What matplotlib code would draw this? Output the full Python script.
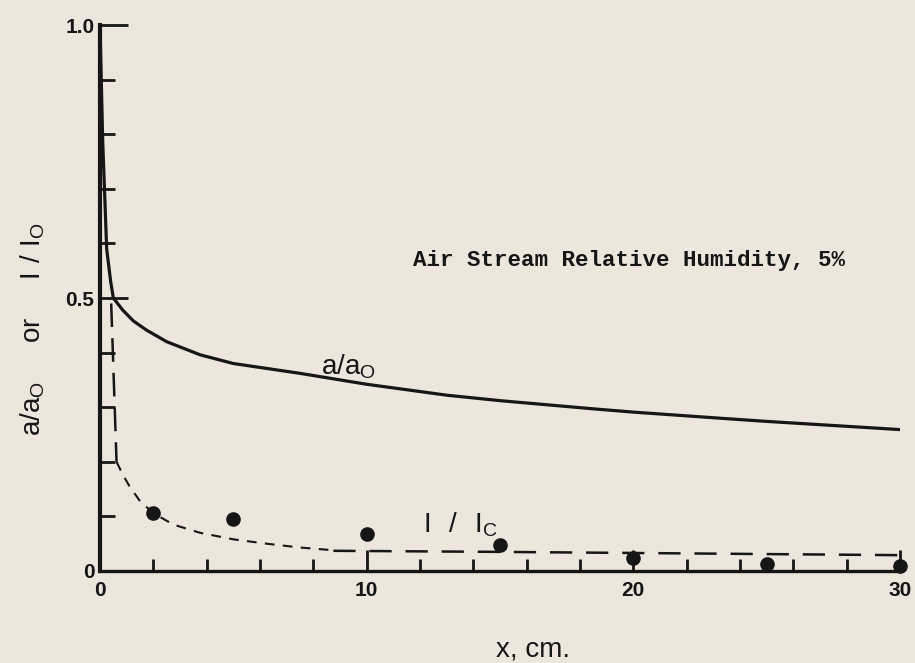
import numpy as np
import matplotlib
matplotlib.use('Agg')
import matplotlib.pyplot as plt

# a/ao (solid curve)
aa_x = [0, 0.1, 0.25, 0.4, 0.5, 0.85, 1.25, 1.75, 2.5, 3.75, 5, 7.5, 10, 13, 15, 18.5, 20, 23.5, 25, 30]
aa_y = [1.0, 0.79, 0.59, 0.53, 0.50, 0.478, 0.458, 0.441, 0.42, 0.396, 0.38, 0.362, 0.342, 0.322,
        0.312, 0.297, 0.291, 0.279, 0.274, 0.259]

# I/Ic (dashed), in three pieces because the dash length changes
ic_drop_x = [0.42, 0.62]
ic_drop_y = [0.49, 0.20]
ic_curve_x = [0.62, 0.86, 1.12, 1.5, 2.0, 2.75, 3.75, 5.0, 6.25, 7.5, 8.75]
ic_curve_y = [0.20, 0.176, 0.154, 0.128, 0.106, 0.085, 0.07, 0.058, 0.05, 0.043, 0.038]
ic_flat_x = [8.75, 15, 20, 25, 30]
ic_flat_y = [0.037, 0.035, 0.033, 0.031, 0.029]

# measured points
pts_x = [2, 5, 10, 15, 20, 25, 30]
pts_y = [0.106, 0.096, 0.068, 0.048, 0.024, 0.012, 0.009]

x_major = [0, 10, 20, 30]
y_major = [0, 0.5, 1.0]
y_labels = ['0', '0.5', '1.0']

ink = '#161616'
paper = '#ECE6DC'


def main():
    plt.rcParams['lines.scale_dashes'] = False
    plt.rcParams['font.family'] = ['Liberation Sans', 'DejaVu Sans']

    fig = plt.figure(figsize=(9.15, 6.63), dpi=100, facecolor=paper)
    ax = fig.add_axes([100 / 915, 92 / 663, 800 / 915, 546 / 663])
    ax.set_facecolor(paper)

    ax.plot(aa_x, aa_y, color=ink, linewidth=2.3, solid_joinstyle='round')
    ax.plot(ic_drop_x, ic_drop_y, color=ink, linewidth=1.8, dashes=(17, 8))
    ax.plot(ic_curve_x, ic_curve_y, color=ink, linewidth=1.5, dashes=(7, 6))
    ax.plot(ic_flat_x, ic_flat_y, color=ink, linewidth=1.8, dashes=(16, 10))
    ax.plot(pts_x, pts_y, 'o', color=ink, markersize=9.5, clip_on=False, zorder=5)

    ax.set_xlim(0, 30)
    ax.set_ylim(0, 1.0)
    for s in ['top', 'right']:
        ax.spines[s].set_visible(False)
    ax.spines['left'].set_linewidth(3)
    ax.spines['bottom'].set_linewidth(2.4)
    ax.spines['left'].set_color(ink)
    ax.spines['bottom'].set_color(ink)

    ax.set_xticks(x_major)
    ax.set_xticks(np.arange(0, 31, 2), minor=True)
    ax.set_yticks(y_major)
    ax.set_yticklabels(y_labels)
    ax.set_yticks(np.arange(0, 1.01, 0.1), minor=True)
    ax.tick_params(which='both', direction='in', width=2, color=ink, labelcolor=ink)
    ax.tick_params(axis='x', which='major', length=15, pad=7)
    ax.tick_params(axis='x', which='minor', length=9)
    ax.tick_params(axis='y', which='major', length=20, pad=4)
    ax.tick_params(axis='y', which='minor', length=11)
    for lab in ax.get_xticklabels() + ax.get_yticklabels():
        lab.set_fontsize(15)
        lab.set_fontweight('bold')

    ax.set_xlabel('x, cm.', fontsize=20, color=ink)
    ax.xaxis.set_label_coords(0.541, -0.157)
    ax.xaxis.label.set_va('baseline')
    ax.set_ylabel(r'$\mathregular{a/a_O}$     or     $\mathregular{I\ /\ I_O}$', fontsize=20, color=ink)
    ax.yaxis.set_label_coords(-0.084, 0.443)
    ax.yaxis.label.set_va('center')

    ax.text(8.3, 0.359, r'$\mathregular{a/a_O}$', fontsize=20, color=ink, va='baseline')
    ax.text(12.1, 0.071, r'$\mathregular{I\ \ /\ \ I_C}$', fontsize=20, color=ink, va='baseline')
    ax.text(11.74, 0.559, 'Air Stream Relative Humidity, 5%', family='Liberation Mono',
            fontweight='bold', fontsize=16.2, color=ink, va='baseline')

    fig.savefig('out.png', dpi=100, facecolor=paper)


if __name__ == '__main__':
    main()
